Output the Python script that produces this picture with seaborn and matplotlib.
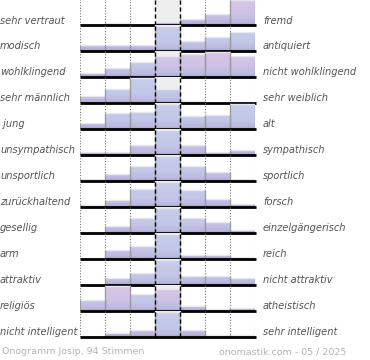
import numpy as np
import pandas as pd
import matplotlib
matplotlib.use("Agg")
import matplotlib.pyplot as plt
from matplotlib.colors import LinearSegmentedColormap
import seaborn as sns

# Onogramm data: left / right adjective and vote distribution over 7 steps
left_labels = ["sehr vertraut", "modisch", "wohlklingend", "sehr männlich", " jung",
               "unsympathisch", "unsportlich", "zurückhaltend", "gesellig", "arm",
               "attraktiv", "religiös", "nicht intelligent"]
right_labels = ["fremd", "antiquiert", "nicht wohlklingend", "sehr weiblich", "alt",
                "sympathisch", "sportlich", "forsch", "einzelgängerisch", "reich",
                "nicht attraktiv", "atheistisch", "sehr intelligent"]
steps = ["1", "2", "3", "4", "5", "6", "7"]
votes = [
    [0, 2, 0, 3, 6, 11, 24],
    [6, 6, 6, 24, 10, 14, 19],
    [4, 9, 15, 21, 22, 24, 21],
    [7, 14, 25, 14, 2, 0, 0],
    [6, 16, 17, 24, 13, 14, 24],
    [3, 3, 10, 24, 10, 3, 5],
    [2, 7, 15, 24, 15, 9, 2],
    [2, 7, 17, 24, 16, 8, 3],
    [1, 7, 14, 24, 14, 11, 3],
    [0.5, 9, 12, 24, 4, 4, 2],
    [0, 7, 12, 25, 9, 9, 7],
    [11, 25, 17, 22, 5, 1.5, 2.5],
    [0, 3, 6, 23, 6, 2, 2],
]
# bars drawn in the pink tint
highlight = [
    [0, 0, 0, 0, 0, 0, 1],
    [0, 0, 0, 0, 0, 0, 0],
    [0, 0, 0, 1, 1, 1, 1],
    [0, 0, 0, 0, 0, 0, 0],
    [0, 0, 0, 0, 0, 0, 0],
    [0, 0, 0, 0, 0, 0, 0],
    [0, 0, 0, 0, 0, 0, 0],
    [0, 0, 0, 0, 0, 0, 0],
    [0, 0, 0, 0, 0, 0, 0],
    [0, 0, 0, 0, 0, 0, 0],
    [0, 0, 0, 0, 0, 0, 0],
    [0, 1, 0, 1, 0, 0, 0],
    [0, 0, 0, 0, 0, 0, 0],
]

W, H = 370, 360
fig = plt.figure(figsize=(W / 100, H / 100), dpi=100)
fig.patch.set_facecolor("white")

blue_cmap = LinearSegmentedColormap.from_list(
    "blue", [(0, "#a69cd0"), (0.1, "#bbb9e0"), (0.35, "#c3c7e8"), (1, "#c7cdea")])
pink_cmap = LinearSegmentedColormap.from_list(
    "pink", [(0, "#a69cd0"), (0.1, "#bbb9e0"), (0.45, "#cdc4e6"), (1, "#ddc3e4")])

x0, x1 = 80, 255
first_base, row_h = 25, 25.97
label_color = "#555555"

for i, vals in enumerate(votes):
    base = first_base + i * row_h
    ax = fig.add_axes([x0 / W, (H - base) / H, (x1 - x0) / W, row_h / H])
    df = pd.DataFrame({"step": steps, "votes": vals})
    sns.barplot(data=df, x="step", y="votes", color="#c5cbe9", width=1,
                edgecolor="none", linewidth=0, ax=ax, zorder=2)
    bars = list(ax.patches)
    top = max(vals) * row_h / 24.5
    for patch, flag in zip(bars, highlight[i]):
        bx, bw, bh = patch.get_x(), patch.get_width(), patch.get_height()
        grad = np.linspace(1, 0, 100).reshape(-1, 1)
        im = ax.imshow(grad, cmap=pink_cmap if flag else blue_cmap, aspect="auto",
                       extent=[bx, bx + bw, 0, top], zorder=1.8, vmin=0, vmax=1)
        im.set_clip_path(patch)
        patch.set_facecolor("none")
        if bh > 0:
            # light top rim and grey side edges like the original
            ax.hlines(bh, bx, bx + bw, color="#e6e7f1", lw=1, zorder=2.2)
            ax.vlines([bx, bx + bw], 0, bh, color="#9a9a9a", lw=0.9, zorder=2.4)
    ax.axvspan(2.5, 3.5, color="#eeeeee", zorder=0)
    for xv in [-0.5, 0.5, 1.5, 4.5, 5.5, 6.5]:
        ax.axvline(xv, color="#777777", lw=0.8, ls=(0, (1, 1.5)), zorder=0.5)
    for xv in [2.5, 3.5]:
        ax.axvline(xv, color="black", lw=1, ls=(0, (3, 2)), zorder=3)
    ax.plot([-0.5, 6.55], [0, 0], color="black", lw=2, zorder=4,
            clip_on=False, solid_capstyle="butt")
    ax.set_xlim(-0.5, 6.5)
    ax.set_ylim(0, top)
    ax.axis("off")
    fig.text(0 / W, 1 - (base - 4.5) / H, left_labels[i], ha="left", va="center",
             fontsize=7.1, style="italic", color=label_color)
    fig.text(263 / W, 1 - (base - 4.5) / H, right_labels[i], ha="left", va="center",
             fontsize=7.1, style="italic", color=label_color)

fig.text(2 / W, 1 - 352 / H, "Onogramm Josip, 94 Stimmen", ha="left", va="center",
         fontsize=6.8, color="#b5b5b5")
fig.text(346 / W, 1 - 352 / H, "onomastik.com - 05 / 2025", ha="right", va="center",
         fontsize=6.8, color="#b5b5b5")

fig.savefig("out.png", dpi=100)
